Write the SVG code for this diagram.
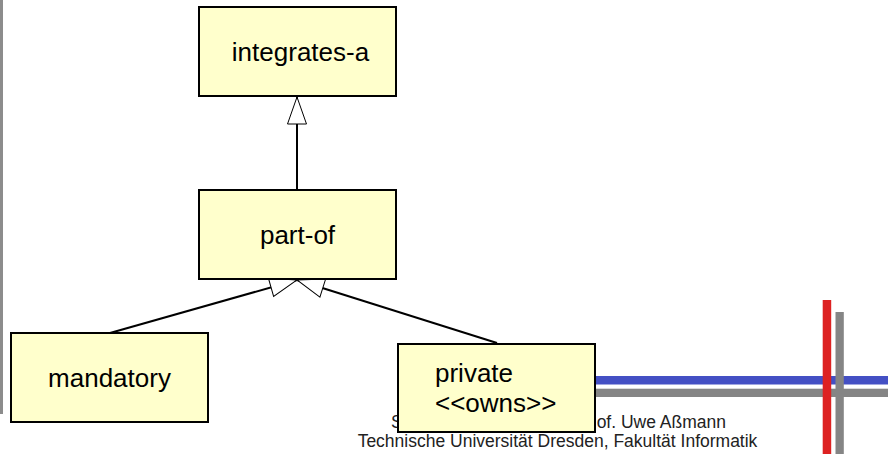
<svg xmlns="http://www.w3.org/2000/svg" width="888" height="454" viewBox="0 0 888 454">
<style>
.box{fill:#ffffcc;stroke:#000;stroke-width:2}
.lbl{font-family:"Liberation Sans",Arial,sans-serif;font-size:26px;fill:#000}
.foot{font-family:"Liberation Sans",Arial,sans-serif;font-size:17.5px;fill:#222}
.conn{stroke:#000;stroke-width:2;fill:none;marker-end:url(#gen)}
</style>
<defs>
<marker id="gen" markerUnits="userSpaceOnUse" markerWidth="30" markerHeight="22" viewBox="-1 -1 30 22" refX="27" refY="9.5" orient="auto">
<path d="M0,0 L27,9.5 L0,19 Z" fill="#fff" stroke="#000" stroke-width="1"/>
</marker>
</defs>
<g id="decor">
<rect x="0" y="0" width="3" height="414" fill="#8c8c8c"/>
<rect x="500" y="376" width="388" height="8.5" fill="#4450c4"/>
<rect x="500" y="388.7" width="388" height="8.3" fill="#858585"/>
<rect x="822.7" y="300" width="8.5" height="154" fill="#dd2222"/>
<rect x="835.5" y="312" width="8.3" height="142" fill="#858585"/>
</g>
<g id="footer">
<text class="foot" x="391" y="428">S</text>
<text class="foot" x="726" y="428" text-anchor="end">of. Uwe Aßmann</text>
<text class="foot" x="557.5" y="447" text-anchor="middle">Technische Universität Dresden, Fakultät Informatik</text>
</g>
<g id="connectors">
<line class="conn" x1="297" y1="190" x2="297" y2="97"/>
<line class="conn" x1="110" y1="333" x2="297" y2="280"/>
<line class="conn" x1="497" y1="343" x2="297" y2="280"/>
</g>
<g id="integrates-a">
<rect class="box" x="199" y="7" width="197" height="89"/>
<text class="lbl" x="300.5" y="61" text-anchor="middle">integrates-a</text>
</g>
<g id="part-of">
<rect class="box" x="199" y="190" width="197" height="89"/>
<text class="lbl" x="297.5" y="244" text-anchor="middle">part-of</text>
</g>
<g id="mandatory">
<rect class="box" x="11" y="333" width="197" height="89"/>
<text class="lbl" x="109.5" y="387" text-anchor="middle">mandatory</text>
</g>
<g id="private">
<rect class="box" x="398" y="344" width="197" height="88"/>
<text class="lbl" x="435" y="382">private</text>
<text class="lbl" x="435" y="412">&lt;&lt;owns&gt;&gt;</text>
</g>
</svg>
